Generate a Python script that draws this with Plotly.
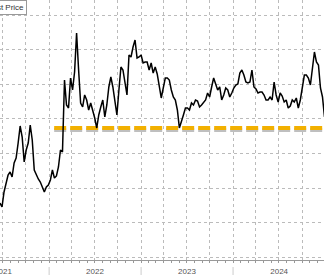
import pandas as pd
import plotly.graph_objects as go

# ---- data ----
start_date = "2021-06-20"
step = "8D"
last_price = [
    15.65, 14.49, 18.84, 21.74, 23.77, 24.64, 23.19, 27.25, 28.70, 33.04,
    37.97, 34.78, 27.54, 31.01, 33.04, 38.26, 33.91, 25.22, 23.77, 22.61,
    21.74, 20.00, 18.84, 20.29, 20.87, 22.32, 25.22, 22.90, 23.48, 26.09,
    31.01, 30.43, 51.30, 44.06, 43.19, 51.88, 48.41, 53.62, 64.93, 54.20,
    44.64, 43.48, 46.96, 45.51, 42.61, 44.64, 42.61, 40.29, 37.39, 41.16,
    43.48, 45.51, 40.58, 44.06, 49.28, 52.17, 49.28, 44.64, 41.16, 48.41,
    55.07, 54.20, 50.43, 46.96, 58.55, 57.97, 60.87, 62.90, 57.68, 57.97,
    58.55, 56.23, 56.52, 56.52, 54.20, 56.23, 53.33, 55.07, 53.04, 49.28,
    46.09, 48.99, 51.88, 51.88, 51.30, 48.41, 46.38, 45.51, 42.61, 37.39,
    39.71, 41.16, 43.19, 43.19, 42.61, 44.64, 44.06, 45.51, 45.22, 43.48,
    44.06, 44.64, 45.51, 47.54, 46.38, 49.28, 51.88, 50.14, 48.41, 49.28,
    45.51, 46.96, 48.99, 48.41, 46.38, 47.54, 48.99, 49.86, 50.14, 53.33,
    54.20, 52.75, 50.72, 50.43, 50.72, 54.20, 49.28, 48.70, 47.54, 47.83,
    47.83, 46.96, 45.51, 45.51, 46.38, 45.51, 50.72, 46.96, 44.93, 47.54,
    46.67, 44.93, 45.51, 43.19, 43.77, 45.51, 44.93, 46.09, 43.19, 45.51,
    49.28, 52.75, 52.75, 51.88, 49.86, 54.20, 59.42, 56.52, 55.65, 48.99,
    46.38, 40.58,
]
dates = pd.date_range(start_date, periods=len(last_price), freq=step)

level_value = 37.39
level_start = "2022-01-21"
level_end = "2024-12-31"

x_range = ["2021-06-20", "2024-12-27"]
y_range = [-0.87, 74.49]
year_labels = ["2021", "2022", "2023", "2024"]
year_label_pos = ["2021-07-02", "2022-07-02", "2023-07-02", "2024-07-02"]
year_bounds = ["2022-01-01", "2023-01-01", "2024-01-01"]
quarter_ticks = pd.date_range("2021-07-01", "2024-12-31", freq="QS").strftime("%Y-%m-%d").tolist()

fig = go.Figure()

# shadow of the level line
fig.add_trace(go.Scatter(
    x=[level_start, level_end], y=[level_value - 0.6, level_value - 0.6],
    mode="lines", line=dict(color="rgba(0,0,0,0.25)", width=4, dash="12px,4px"),
    hoverinfo="skip", showlegend=False,
))
fig.add_trace(go.Scatter(
    x=[level_start, level_end], y=[level_value, level_value],
    mode="lines", line=dict(color="#f2b000", width=4, dash="12px,4px"),
    showlegend=False,
))
fig.add_trace(go.Scatter(
    x=dates, y=last_price, mode="lines",
    line=dict(color="black", width=1.5), name="Last Price", showlegend=False,
))
# invisible trace for label axis
fig.add_trace(go.Scatter(x=x_range, y=[None, None], xaxis="x2", showlegend=False, hoverinfo="skip"))

for b in year_bounds:
    fig.add_shape(type="line", xref="x", yref="paper", x0=b, x1=b, y0=-0.027, y1=-0.06,
                  line=dict(color="#cccccc", width=1))

fig.add_annotation(
    text="Last Price", xref="paper", yref="paper", x=27 / 324, y=1,
    xanchor="right", yanchor="top", showarrow=False,
    font=dict(family="Liberation Sans", size=8, color="#333333"),
    bordercolor="#999999", borderwidth=1, borderpad=2, bgcolor="white",
)

fig.update_layout(
    width=324, height=275,
    margin=dict(l=0, r=0, t=0, b=15, autoexpand=False),
    paper_bgcolor="white", plot_bgcolor="white",
    font=dict(family="Liberation Sans", size=8, color="#555555"),
    xaxis=dict(
        type="date", range=x_range, automargin=False,
        tickvals=quarter_ticks, ticktext=[""] * len(quarter_ticks),
        showgrid=True, gridcolor="#bbbbbb", griddash="dot", gridwidth=1,
        showline=True, linecolor="#999999", linewidth=1,
        ticks="outside", ticklen=2, tickcolor="#999999",
        minor=dict(dtick="M1", ticks="outside", ticklen=2, tickcolor="#999999", showgrid=False),
        zeroline=False,
    ),
    xaxis2=dict(
        type="date", range=x_range, overlaying="x", side="bottom", matches="x",
        automargin=False,
        tickvals=year_label_pos, ticktext=year_labels, ticks="",
        showgrid=False, showline=False, zeroline=False, ticklabelstandoff=5,
        ticklabeloverflow="allow",
        tickfont=dict(family="Liberation Sans", size=8, color="#555555"),
    ),
    yaxis=dict(
        range=y_range, dtick=10, tick0=0, showticklabels=False, automargin=False,
        showgrid=True, gridcolor="#bbbbbb", griddash="dot", gridwidth=1,
        zeroline=False, showline=False,
    ),
)

fig.write_html("out.html")
